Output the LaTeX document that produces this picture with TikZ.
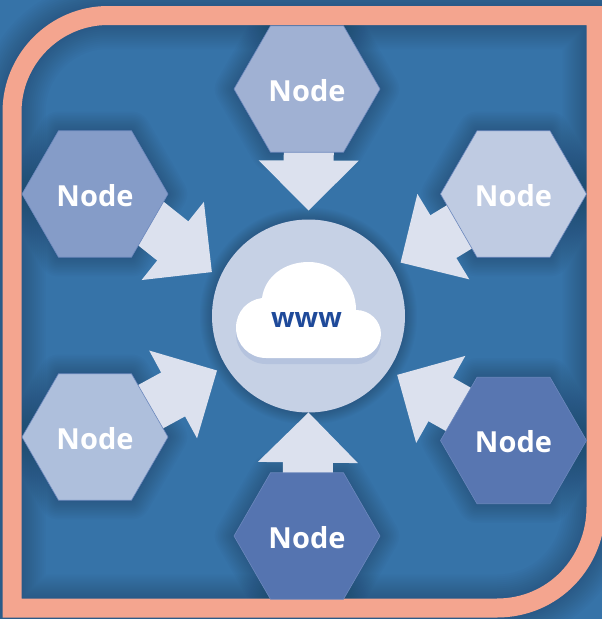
\documentclass[tikz,border=0pt]{standalone}
\usepackage{fontspec}
\setmainfont{Open Sans}
\usetikzlibrary{calc}
\usetikzlibrary{shapes.geometric}
\usetikzlibrary{arrows.meta}

\definecolor{backblue}{HTML}{3673A8}
\definecolor{glowblue}{HTML}{1D3F5E}
\definecolor{salmon}{HTML}{F4A58F}
\definecolor{edgeblue}{HTML}{6C88BD}
\definecolor{arrowfill}{HTML}{DCE1EE}
\definecolor{hubfill}{HTML}{C6D1E5}
\definecolor{cloudshade}{HTML}{B5C3DE}
\definecolor{wwwblue}{HTML}{1F4A9A}

\pgfdeclarelayer{back}
\pgfdeclarelayer{flechas}
\pgfsetlayers{back,flechas,main}

\newcommand{\cloudpath}{(266,358) .. controls (249.4,358) and (236,344.6) .. (236,328)
  .. controls (236,312) and (247,300) .. (262,298)
  .. controls (265,276) and (285,262) .. (308.5,262)
  .. controls (335,262) and (356,283) .. (356,310)
  .. controls (370,310) and (381,321) .. (381,334)
  .. controls (381,347) and (370,358) .. (357,358) -- cycle}
\newcommand{\framepath}{(12,608) -- (12,112) .. controls (12,59) and (55,15.5) .. (108,15.5)
  -- (596,15.5) -- (596,507) .. controls (596,563) and (553,608) .. (497,608) -- cycle}

\begin{document}
\begin{tikzpicture}[x=1pt,y=-1pt,
  hex node/.style={regular polygon,regular polygon sides=6,
  draw=edgeblue,line width=0.6pt,inner sep=0pt,outer sep=0pt,minimum size=146pt,
  text=white,text height=24pt,text depth=0pt,font=\bfseries\fontsize{29}{29}\selectfont},
  hub node/.style={circle,fill=hubfill,inner sep=0pt,outer sep=0pt,minimum size=193pt},
  big arrow/.style={color=arrowfill,line width=50pt,line cap=rect,
  -{Triangle[length=50pt,width=100pt,line width=0pt]}},
  glow/.style={draw=glowblue,opacity=0.04,line join=round}]
  \useasboundingbox (0,0) rectangle (602,619);

  \node[hex node,fill={rgb,255:red,160;green,177;blue,211}] (n0) at (307,89) {Node};
  \node[hex node,fill={rgb,255:red,133;green,156;blue,200}] (n1) at (95,194) {Node};
  \node[hex node,fill={rgb,255:red,191;green,203;blue,226}] (n2) at (513.5,194) {Node};
  \node[hex node,fill={rgb,255:red,174;green,191;blue,220}] (n3) at (95,437) {Node};
  \node[hex node,fill={rgb,255:red,88;green,118;blue,177}] (n4) at (513.5,440.5) {Node};
  \node[hex node,fill={rgb,255:red,85;green,116;blue,176}] (n5) at (307,536) {Node};
  \node[hub node] (www) at (308.5,316) {};

  % nube
  \fill[cloudshade,shift={(0,6)}] \cloudpath;
  \fill[white] \cloudpath;
  \node[text=wwwblue,font=\bfseries\fontsize{27.5}{28}\selectfont] (w) at (306.5,320) {www};

  \begin{pgfonlayer}{back}
    \fill[backblue] (0,0) rectangle (602,619);
    % sombras
    \foreach \w in {2,4,...,24}{
      \path[glow,line width=19pt+2*\w*1pt] \framepath;
      \foreach \n in {n0,n1,n2,n3,n4,n5}
        \path[glow,line width=1.6*\w*1pt] (\n.corner 1) -- (\n.corner 2) -- (\n.corner 3)
          -- (\n.corner 4) -- (\n.corner 5) -- (\n.corner 6) -- cycle;
      \path[glow,line width=1*\w*1pt] (www.center) circle (96.5pt);
    }
    \draw[salmon,line width=19pt] \framepath;
  \end{pgfonlayer}

  \begin{pgfonlayer}{flechas}
    \path[every edge/.append style={big arrow}]
      % aristas
      ($(n0.center)+(2,0)$) edge[shorten >=9pt] (www.90)
      ($(n1.center)+(0,-15)$) edge[shorten >=10pt] (www.157.8)
      (n2.center) edge[shorten >=10pt] (www.30.5)
      (n3.center) edge[shorten >=10pt] (www.211.3)
      (n4.center) edge[shorten >=10pt] (www.-34)
      (n5.center) edge (www.270);
  \end{pgfonlayer}
\end{tikzpicture}
\end{document}
